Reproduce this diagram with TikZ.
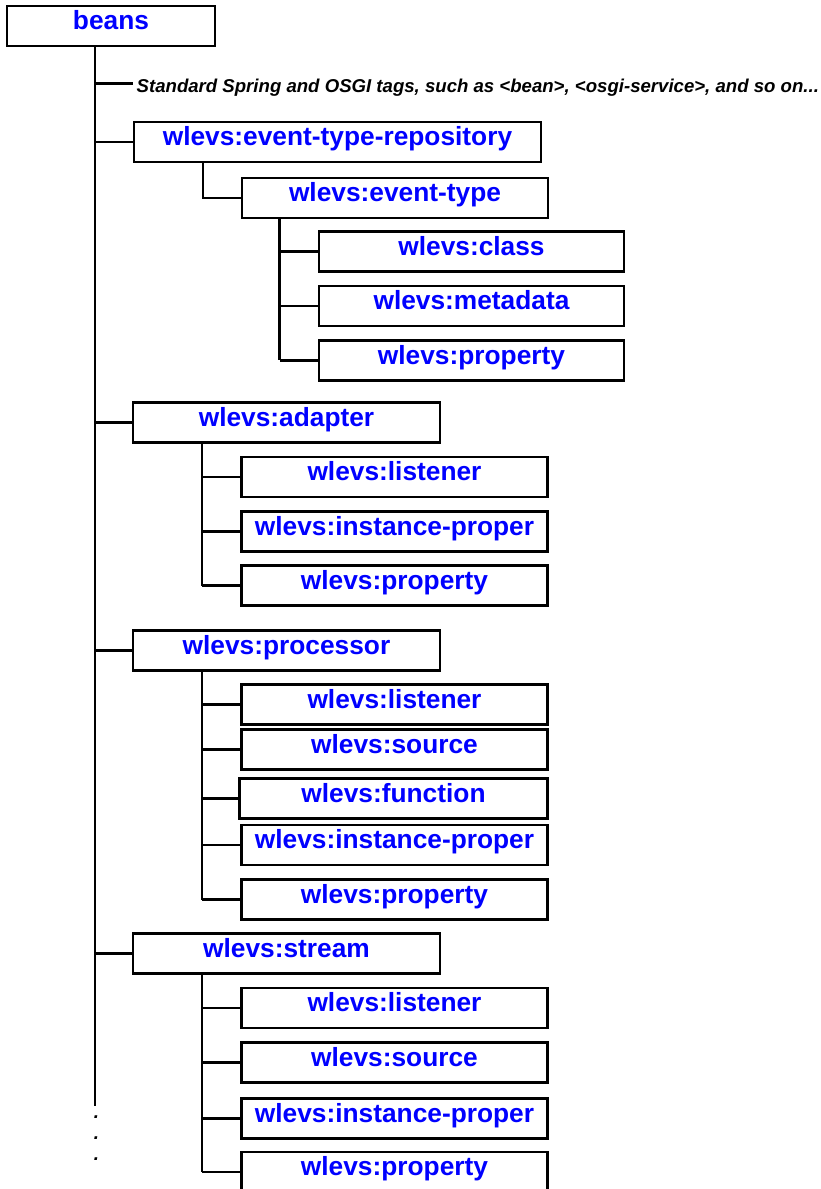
\documentclass[tikz,border=0pt]{standalone}
\usepackage{fontspec}
\setmainfont{Liberation Sans}
\definecolor{tagblue}{RGB}{0,0,255}
\tikzset{
  tagbox/.style={draw, line width=2.5pt, inner sep=0pt, minimum height=40pt,
    text height=15pt, text depth=7.5pt, text=tagblue,
    font=\fontsize{26.3}{30}\selectfont\bfseries},
  lvlone/.style={tagbox, minimum width=307pt},
  lvltwo/.style={tagbox, minimum width=306pt},
  link/.style={line width=2.5pt},
  note/.style={font=\fontsize{18.6}{21}\selectfont\bfseries\itshape}
}
\begin{document}
\begin{tikzpicture}[x=1pt,y=-1pt]
  % page frame, the last box runs off the bottom
  \useasboundingbox (0,0) rectangle (821,1189);
  \clip (0,0) rectangle (821,1189);
  % x of the vertical lines
  \coordinate (trunk) at (95,0);
  \coordinate (trunkend) at (95,1106);
  \coordinate (repoline) at (203,0);
  \coordinate (typeline) at (279.5,0);
  \coordinate (subline) at (202,0);

  \node[tagbox, minimum width=208pt] (beans) at (111,26) {beans};
  \node[note, anchor=base west, inner xsep=4pt, inner ysep=0pt,
    text height=18.6pt, text depth=0pt] (spring) at (132.5,92.7)
    {Standard Spring and OSGI tags, such as <bean>, <osgi-service>, and so on...};

  % event types
  \node[tagbox, minimum width=407pt] (repo) at (337.5,142) {wlevs:event-type-repository};
  \node[lvltwo] (etype) at (395,198) {wlevs:event-type};
  \node[lvltwo, minimum width=305pt] (class) at (471.5,251.5) {wlevs:class};
  \node[lvltwo, minimum width=305pt] (meta) at (471.5,306) {wlevs:metadata};
  \node[lvltwo, minimum width=305pt] (eprop) at (471.5,360.3) {wlevs:property};

  % adapter
  \node[lvlone] (adapter) at (286.5,422.5) {wlevs:adapter};
  \node[lvltwo] (adlis) at (394.5,477) {wlevs:listener};
  \node[lvltwo] (adinst) at (394.5,531.5) {wlevs:instance-proper};
  \node[lvltwo] (adprop) at (394.5,585.5) {wlevs:property};

  % processor
  \node[lvlone] (proc) at (286.5,650.5) {wlevs:processor};
  \node[lvltwo] (prlis) at (394.5,704.5) {wlevs:listener};
  \node[lvltwo] (prsrc) at (394.5,749.5) {wlevs:source};
  \node[lvltwo, minimum width=308pt] (prfun) at (393.5,798.5) {wlevs:function};
  \node[lvltwo] (prinst) at (394.5,845) {wlevs:instance-proper};
  \node[lvltwo] (prprop) at (394.5,899.5) {wlevs:property};

  % stream
  \node[lvlone] (stream) at (286.5,953.5) {wlevs:stream};
  \node[lvltwo] (stlis) at (394.5,1008) {wlevs:listener};
  \node[lvltwo] (stsrc) at (394.5,1062.5) {wlevs:source};
  \node[lvltwo] (stinst) at (394.5,1118.5) {wlevs:instance-proper};
  \node[lvltwo] (stprop) at (394.5,1172) {wlevs:property};

  \node[note, align=center, inner sep=0pt] (more) at (96.5,1138) {.\\.\\.};

  % tree lines
  \draw[link] (beans.south -| trunk) -- (trunkend);
  \draw[link] (trunk |- spring.west) -- (spring.west);
  \foreach \c in {repo,adapter,proc,stream}
    \draw[link] (trunk |- \c.west) -- (\c.west);
  \draw[link] (repo.south -| repoline) |- (etype.west);
  \draw[link] (etype.south -| typeline) -- (typeline |- eprop.west);
  \foreach \c in {class,meta,eprop}
    \draw[link] (typeline |- \c.west) -- (\c.west);
  \draw[link] (adapter.south -| subline) -- (subline |- adprop.west);
  \foreach \c in {adlis,adinst,adprop}
    \draw[link] (subline |- \c.west) -- (\c.west);
  \draw[link] (proc.south -| subline) -- (subline |- prprop.west);
  \foreach \c in {prlis,prsrc,prfun,prinst,prprop}
    \draw[link] (subline |- \c.west) -- (\c.west);
  \draw[link] (stream.south -| subline) -- (subline |- stprop.west);
  \foreach \c in {stlis,stsrc,stinst,stprop}
    \draw[link] (subline |- \c.west) -- (\c.west);
\end{tikzpicture}
\end{document}
